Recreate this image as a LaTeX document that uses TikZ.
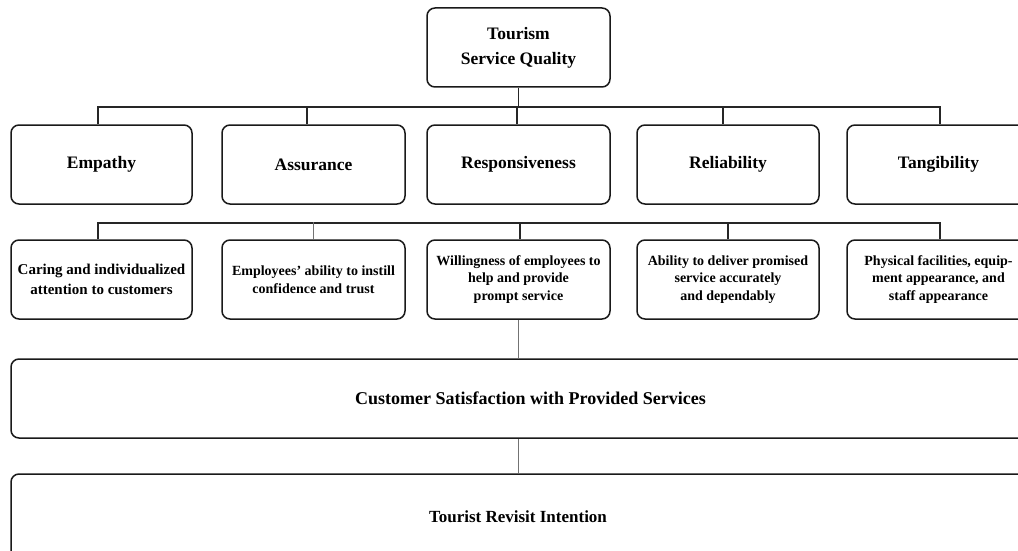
\documentclass[tikz,border=0pt]{standalone}
\usepackage{fontspec}
\setmainfont{Liberation Serif}
\begin{document}
\begin{tikzpicture}[x=1pt,y=-1pt,
  box/.style={draw=black!90, line width=1.5pt, rounded corners=8pt, inner sep=0pt, align=center,
              font=\bfseries\fontsize{17.5}{25}\selectfont},
  desc/.style={box, font=\bfseries\fontsize{14}{17.5}\selectfont},
  link/.style={draw=black!85, line width=1.4pt},
  thinlink/.style={draw=black!55, line width=1pt}]
\useasboundingbox (0,0) rectangle (1018,551);
\clip (0,0) rectangle (1018,551);

% top
\node[box, minimum width=183pt, minimum height=79pt] (top) at (518.5,47.5) {Tourism\\Service Quality};

% level 2
\node[box, minimum width=181pt, minimum height=79pt] (emp) at (101.5,164.5) {Empathy};
\node[box, minimum width=183pt, minimum height=79pt] (ass) at (313.5,164.5) {Assurance};
\node[box, minimum width=183pt, minimum height=79pt] (res) at (518.5,164.5) {Responsiveness};
\node[box, minimum width=182pt, minimum height=79pt] (rel) at (728,164.5) {Reliability};
\node[box, minimum width=183pt, minimum height=79pt] (tan) at (938.5,164.5) {Tangibility};

% level 3
\node[desc, minimum width=181pt, minimum height=79pt, font=\bfseries\fontsize{15}{20}\selectfont] (empd) at (101.5,279.5) {Caring and individualized\\attention to customers};
\node[desc, minimum width=183pt, minimum height=79pt] (assd) at (313.5,279.5) {Employees' ability to instill\\confidence and trust};
\node[desc, minimum width=183pt, minimum height=79pt] (resd) at (518.5,279.5) {Willingness of employees to\\help and provide\\prompt service};
\node[desc, minimum width=182pt, minimum height=79pt] (reld) at (728,279.5) {Ability to deliver promised\\service accurately\\and dependably};
\node[desc, minimum width=183pt, minimum height=79pt] (tand) at (938.5,279.5) {Physical facilities, equip-\\ment appearance, and\\staff appearance};

% outcome boxes
\node[box, minimum width=1039pt, minimum height=79pt, font=\bfseries\fontsize{18}{22}\selectfont] (csat) at (530.5,398.5) {Customer Satisfaction with Provided Services};
\node[box, minimum width=1014pt, minimum height=86pt, font=\bfseries\fontsize{17}{22}\selectfont] (trv) at (518,517) {Tourist Revisit Intention};

% bus 1
\coordinate (bus1L) at (98,107);
\coordinate (bus1R) at (940,107);
\draw[link] (top.south) -- (top.south |- bus1L);
\draw[link] (bus1L) -- (bus1R);
\draw[link] ([xshift=-3.5pt]emp.north) -- ++(0,-18);
\draw[link] ([xshift=-6.5pt]ass.north) -- ++(0,-18);
\draw[link] ([xshift=-1.5pt]res.north) -- ++(0,-18);
\draw[link] ([xshift=-5pt]rel.north) -- ++(0,-18);
\draw[link] ([xshift=1.5pt]tan.north) -- ++(0,-18);

% bus 2
\coordinate (bus2L) at (98,223);
\coordinate (bus2R) at (940,223);
\draw[link] (bus2L) -- (bus2R);
\draw[link] ([xshift=-3.5pt]empd.north) -- ++(0,-17);
\draw[thinlink] ([xshift=-0.5pt]assd.north) -- ++(0,-17);
\draw[link] ([xshift=1.5pt]resd.north) -- ++(0,-17);
\draw[link] (reld.north) -- ++(0,-17);
\draw[link] ([xshift=1.5pt]tand.north) -- ++(0,-17);

% stems
\draw[thinlink] (resd.south) -- (resd.south |- csat.north);
\draw[thinlink] (resd.south |- csat.south) -- (resd.south |- trv.north);
\end{tikzpicture}
\end{document}
